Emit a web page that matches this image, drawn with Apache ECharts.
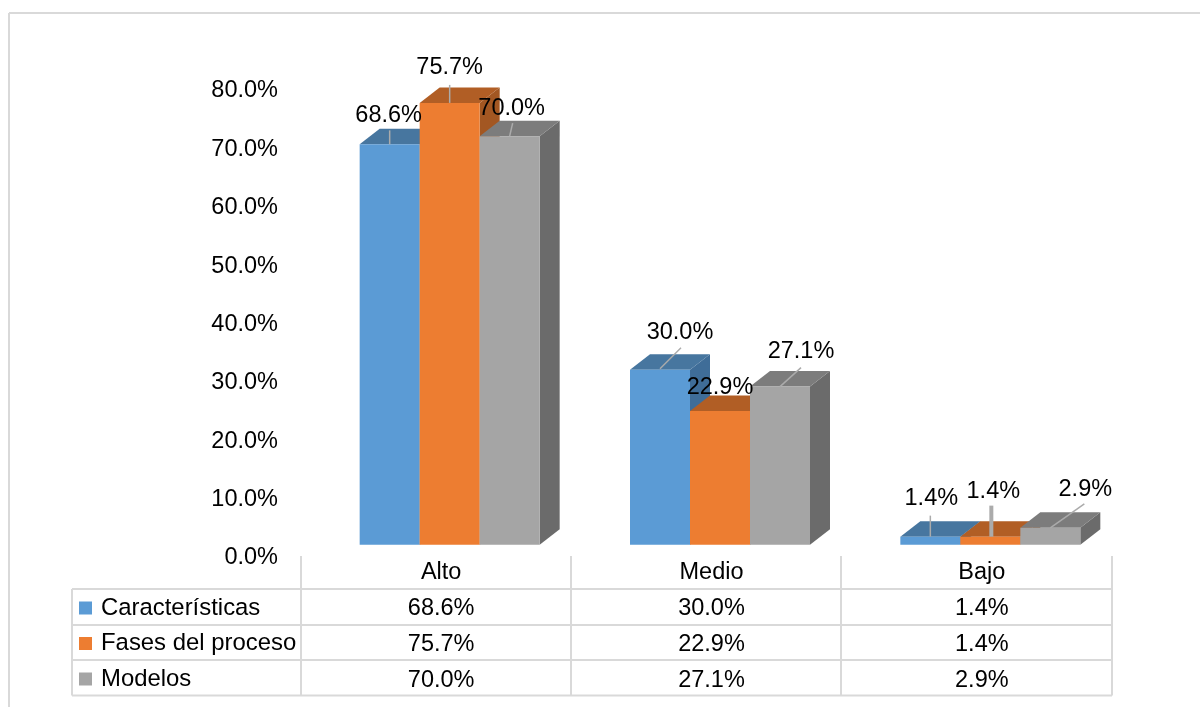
<!DOCTYPE html>
<html>
<head>
<meta charset="utf-8">
<style>html,body{margin:0;padding:0;background:#fff}#c{width:1200px;height:707px}</style>
<script src="https://cdn.jsdelivr.net/npm/echarts@6/dist/echarts.min.js"></script>
</head>
<body>
<div id="c"></div>
<script>
const categories = ['Alto', 'Medio', 'Bajo'];
const caracteristicas = [68.6, 30.0, 1.4];
const fases = [75.7, 22.9, 1.4];
const modelos = [70.0, 27.1, 2.9];
const yTicks = [0, 10, 20, 30, 40, 50, 60, 70, 80];

const FONT = '"Liberation Sans", Arial, sans-serif';
const FS = 23.5;
const BAR_W = 60, DEPTH_X = 20, DEPTH_Y = 15.5, BASE_SHIFT = 13.2, GROUP_SHIFT = 8.5;
const ROW_Y = [609, 644.5, 680.5];

const seriesStyle = [
  {name: 'Características', values: caracteristicas, slot: -1, front: '#5B9BD5', top: '#47769F', side: '#3F6D98',
   // label centre and leader end relative to the bar's front-top centre
   labels: [{dx: -1, dy: -29, l: [0, 0, 0, -14], w: 1.5}, {dx: 20, dy: -37, l: [0, -1, 21, -22], w: 1.5}, {dx: 1, dy: -38, l: [0, 0, 0, -21], w: 1.5}]},
  {name: 'Fases del proceso', values: fases, slot: 0, front: '#ED7D31', top: '#B15E25', side: '#A35722',
   labels: [{dx: 0, dy: -35, l: [0, 0, 0, -18], w: 1.5}, {dx: 0, dy: -24, l: null, w: 0}, {dx: 3, dy: -45, l: [1, 0, 1, -31], w: 4}]},
  {name: 'Modelos', values: modelos, slot: 1, front: '#A5A5A5', top: '#7C7C7C', side: '#6B6B6B',
   labels: [{dx: 2, dy: -28, l: [0, 0, 3, -13], w: 1.5}, {dx: 21, dy: -35, l: [0, 0, 21, -19], w: 1.5}, {dx: 35, dy: -38, l: [0, 0, 34, -24], w: 1.5}]}
];

function makeRender(st, rowIdx) {
  return function (params, api) {
    const i = api.value(0), v = api.value(1);
    const cx = api.coord([i, 0])[0];
    const x0 = cx + GROUP_SHIFT + st.slot * BAR_W - BAR_W / 2;
    const x1 = x0 + BAR_W;
    const yb = api.coord([i, 0])[1] - BASE_SHIFT;
    const yt = api.coord([i, v])[1] - BASE_SHIFT;
    const mid = (x0 + x1) / 2;
    const lab = st.labels[i];
    const txt = v.toFixed(1) + '%';
    const children = [
      {type: 'polygon', shape: {points: [[x1, yt], [x1 + DEPTH_X, yt - DEPTH_Y], [x1 + DEPTH_X, yb - DEPTH_Y], [x1, yb]]}, style: {fill: st.side}},
      {type: 'polygon', shape: {points: [[x0, yt], [x1, yt], [x1 + DEPTH_X, yt - DEPTH_Y], [x0 + DEPTH_X, yt - DEPTH_Y]]}, style: {fill: st.top}},
      {type: 'rect', shape: {x: x0, y: yt, width: BAR_W, height: yb - yt}, style: {fill: st.front}}
    ];
    if (lab.l) {
      children.push({type: 'line', z2: 50, shape: {x1: mid + lab.l[0], y1: yt + lab.l[1], x2: mid + lab.l[2], y2: yt + lab.l[3]},
        style: {stroke: '#ABABAB', lineWidth: lab.w}});
    }
    children.push({type: 'text', z2: 100, style: {x: mid + lab.dx, y: yt + lab.dy, text: txt, fill: '#000', font: FS + 'px ' + FONT, align: 'center', verticalAlign: 'middle'}});
    children.push({type: 'text', z2: 100, style: {x: cx, y: ROW_Y[rowIdx], text: txt, fill: '#000', font: FS + 'px ' + FONT, align: 'center', verticalAlign: 'middle'}});
    return {type: 'group', children};
  };
}

const tableLines = [];
const LINE = {stroke: '#D9D9D9', lineWidth: 2};
[[9, 13, 9, 707], [9, 13, 1200, 13],
 [72, 589, 1112, 589], [72, 625, 1112, 625], [72, 660, 1112, 660], [72, 695.5, 1112, 695.5],
 [72, 589, 72, 695.5], [301, 556, 301, 695.5], [571, 556, 571, 695.5], [841, 556, 841, 695.5], [1112, 556, 1112, 695.5]
].forEach(p => tableLines.push({type: 'line', shape: {x1: p[0], y1: p[1], x2: p[2], y2: p[3]}, style: LINE, silent: true}));

const chart = echarts.init(document.getElementById('c'), null, {renderer: 'canvas'});
chart.setOption({
  animation: false,
  backgroundColor: '#fff',
  grid: {left: 306, right: 83, top: 91, bottom: 149, containLabel: false},
  xAxis: {
    type: 'category', data: categories,
    axisLine: {show: false}, axisTick: {show: false}, splitLine: {show: false},
    axisLabel: {color: '#000', fontFamily: FONT, fontSize: FS, margin: 3}
  },
  yAxis: {
    type: 'value', min: 0, max: 80, interval: 10,
    axisLine: {show: false}, axisTick: {show: false}, splitLine: {show: false},
    axisLabel: {color: '#000', fontFamily: FONT, fontSize: FS, margin: 28,
      formatter: v => yTicks.includes(v) ? v.toFixed(1) + '%' : ''}
  },
  legend: {
    orient: 'vertical', left: 74, top: 591, itemWidth: 13, itemHeight: 13, itemGap: 11.5,
    icon: 'rect', selectedMode: false,
    textStyle: {color: '#000', fontFamily: FONT, fontSize: 23.9, lineHeight: 24, padding: [0, 0, 0, 4]},
    data: seriesStyle.map(s => s.name)
  },
  graphic: {elements: tableLines},
  series: seriesStyle.map((st, k) => ({
    type: 'custom', name: st.name, clip: false,
    itemStyle: {color: st.front},
    encode: {x: 0, y: 1},
    data: st.values.map((v, i) => [i, v]),
    renderItem: makeRender(st, k)
  }))
});
</script>
</body>
</html>
